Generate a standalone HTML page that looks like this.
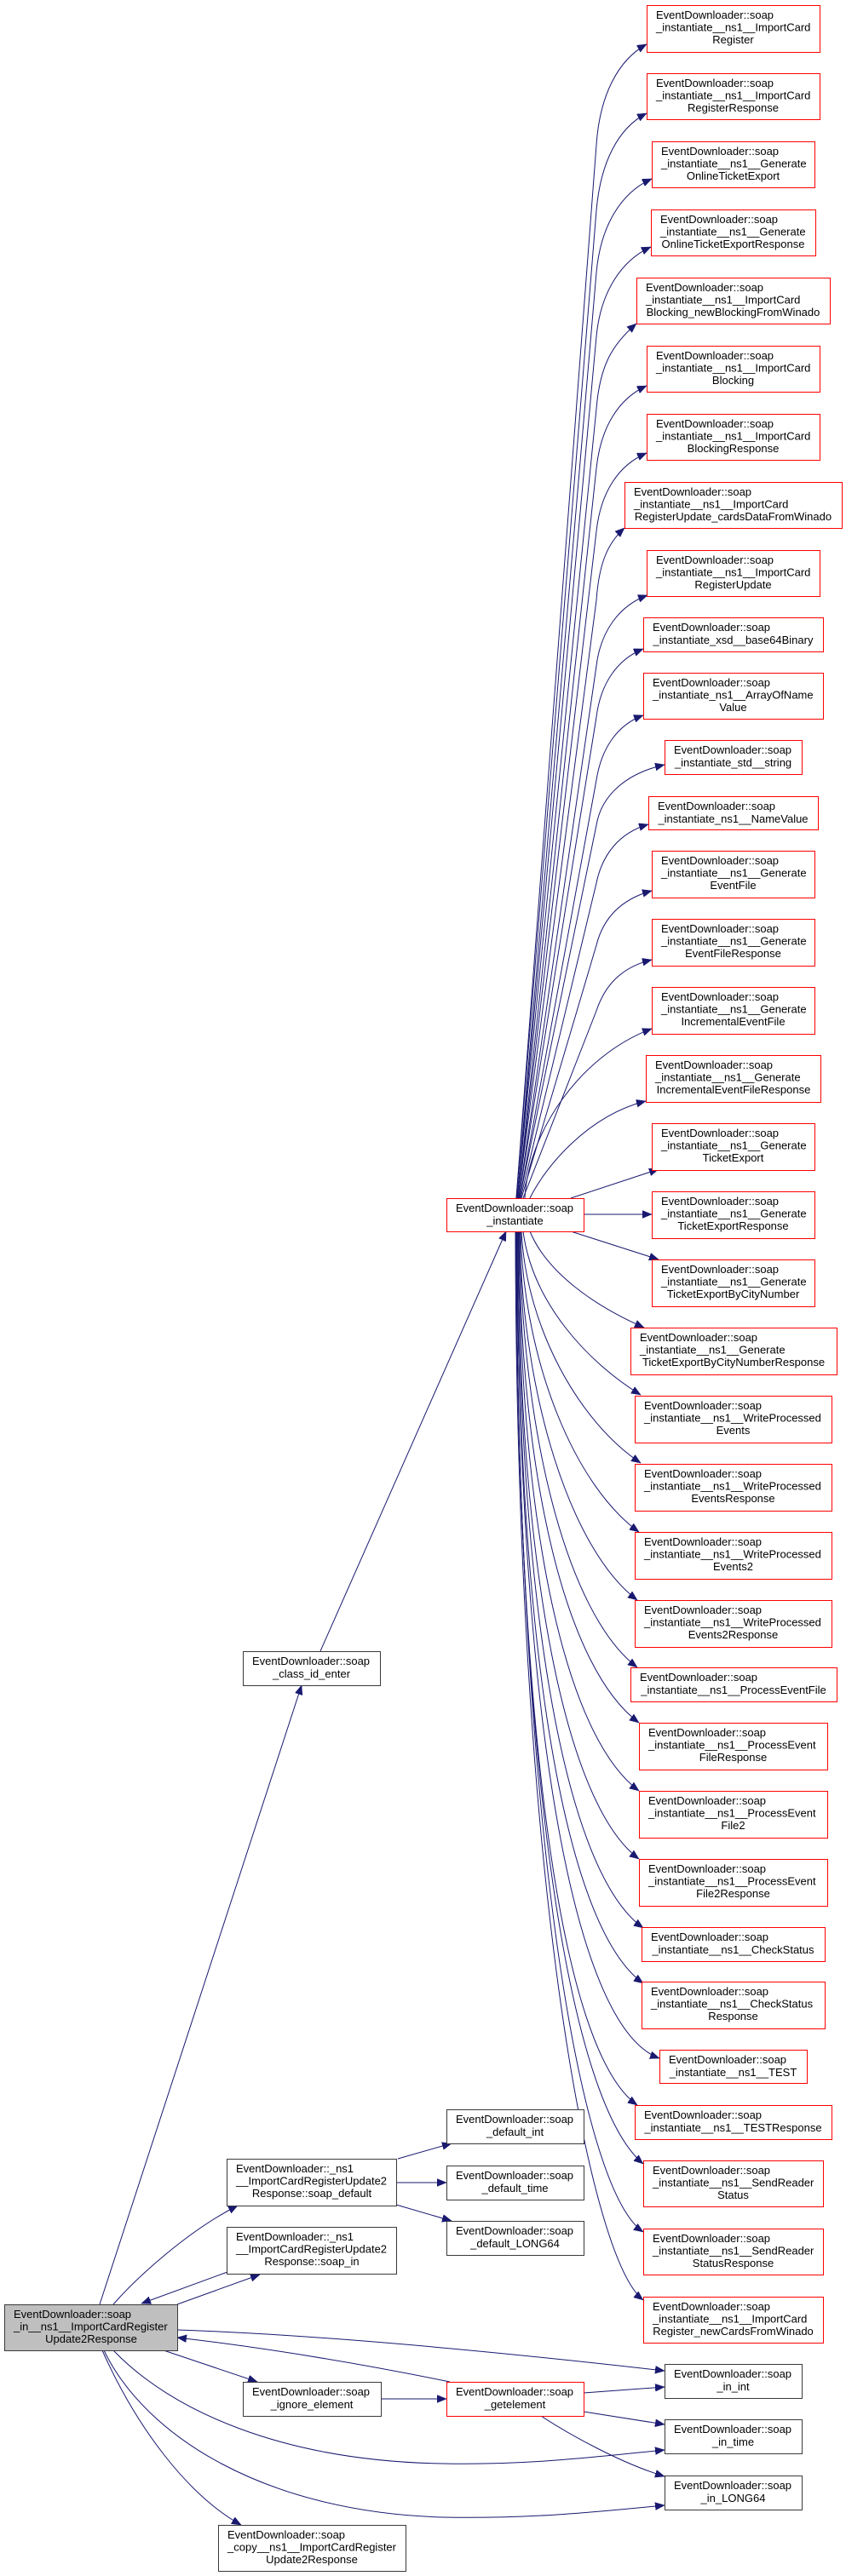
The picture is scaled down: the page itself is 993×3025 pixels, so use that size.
<!DOCTYPE html>
<html><head><meta charset="utf-8"><style>
html,body{margin:0;padding:0;background:#fff;}
svg{display:block;}
.e{fill:none;stroke:#191970;stroke-width:1;marker-end:url(#ah);}
.r{fill:#fff;stroke:#ff0000;stroke-width:1;}
.b{fill:#fff;stroke:#3a3a3a;stroke-width:1;}
.g{fill:#bfbfbf;stroke:#3a3a3a;stroke-width:1;}
text{font-family:"Liberation Sans",Arial,sans-serif;font-size:13px;fill:#000;}
.m{text-anchor:middle;}
</style></head><body>
<svg width="993" height="3025" xmlns="http://www.w3.org/2000/svg">
<defs><marker id="ah" markerUnits="userSpaceOnUse" markerWidth="12" markerHeight="10" refX="11" refY="4.5" orient="auto"><path d="M0,0 L11,4.5 L0,9 z" fill="#191970" stroke="#191970" stroke-width="0.5"/></marker></defs>

<!-- edges from soap_instantiate -->
<path class="e" d="M606,1407 L700,170 C704,111 726,70 759,52"/>
<path class="e" d="M606,1407 L700,247 C705,190 726,150 759,133"/>
<path class="e" d="M607,1407 L700,320 C705,265 729,226 765,210"/>
<path class="e" d="M607,1407 L700,395 C705,343 729,306 764,290"/>
<path class="e" d="M607,1407 L700,480 C704,430 718,405 747,380"/>
<path class="e" d="M608,1407 L700,550 C705,502 726,468 759,453"/>
<path class="e" d="M608,1407 L700,624 C705,578 726,546 759,532"/>
<path class="e" d="M608,1407 L700,705 C703,662 713,638 733,620"/>
<path class="e" d="M609,1407 L700,782 C705,741 727,711 760,699"/>
<path class="e" d="M609,1407 L700,842 C705,802 725,774 755,762"/>
<path class="e" d="M610,1407 L700,916 C706,878 725,851 755,840"/>
<path class="e" d="M610,1407 L700,969 C706,933 736,908 780,898"/>
<path class="e" d="M611,1407 L700,1037 C707,1003 727,978 761,968"/>
<path class="e" d="M612,1407 L700,1110 C708,1078 729,1056 765,1046"/>
<path class="e" d="M614,1407 L700,1187 C710,1157 729,1136 765,1127"/>
<path class="e" d="M616,1407 C620,1330 680,1240 765,1208"/>
<path class="e" d="M622,1407 C640,1370 690,1310 758,1293"/>
<path class="e" d="M670,1407 L773,1373"/>
<path class="e" d="M685,1426 L765,1426"/>
<path class="e" d="M670,1446 L773,1479"/>
<path class="e" d="M622,1446 C640,1490 690,1530 756,1559"/>
<path class="e" d="M614,1446 C625,1530 690,1600 752,1638"/>
<path class="e" d="M612,1446 C618,1560 680,1670 752,1718"/>
<path class="e" d="M611,1446 C615,1600 675,1745 750,1799"/>
<path class="e" d="M610,1446 C613,1640 670,1820 748,1879"/>
<path class="e" d="M610,1446 C612,1680 665,1895 748,1958"/>
<path class="e" d="M609,1446 C611,1740 665,1960 750,2023"/>
<path class="e" d="M609,1446 C610,1800 665,2040 750,2103"/>
<path class="e" d="M608,1446 C609,1850 665,2120 750,2183"/>
<path class="e" d="M608,1446 C609,1900 665,2200 755,2264"/>
<path class="e" d="M607,1446 C608,1950 665,2265 755,2329"/>
<path class="e" d="M607,1446 C608,2000 670,2380 774,2417"/>
<path class="e" d="M606,1446 C607,2050 660,2410 748,2472"/>
<path class="e" d="M606,1446 C607,2100 670,2470 755,2541"/>
<path class="e" d="M606,1446 C608,2150 680,2570 755,2621"/>
<path class="e" d="M605,1446 C606,2200 690,2650 755,2701"/>

<!-- bottom-left edges -->
<path class="e" d="M117,2706 L354,1979"/>
<path class="e" d="M376,1939 L594,1446"/>
<path class="e" d="M133,2706 C160,2675 220,2620 279,2590"/>
<path class="e" d="M208,2706 L305,2671"/>
<path class="e" d="M267,2668 L166,2705"/>
<path class="e" d="M208,2736 Q420,2743 780,2784"/>
<path class="e" d="M528,2797 C430,2777 320,2758 208,2745"/>
<path class="e" d="M192,2760 L302,2797"/>
<path class="e" d="M447,2817 L524,2817"/>
<path class="e" d="M685,2810 L780,2803"/>
<path class="e" d="M685,2832 L780,2847"/>
<path class="e" d="M635,2837 C670,2860 730,2893 780,2908"/>
<path class="e" d="M133,2760 C200,2830 330,2890 520,2893 C620,2895 700,2885 780,2877"/>
<path class="e" d="M122,2760 C170,2860 310,2950 520,2956 C620,2958 700,2950 780,2942"/>
<path class="e" d="M120,2760 C160,2850 220,2930 283,2965"/>
<path class="e" d="M467,2535 L530,2517"/>
<path class="e" d="M465,2563 L524,2563"/>
<path class="e" d="M465,2589 L530,2608"/>

<!-- right column red nodes -->
<rect class="r" x="759.5" y="6.5" width="203" height="55"/>
<text x="770" y="22">EventDownloader::soap</text><text x="770" y="36.6">_instantiate__ns1__ImportCard</text><text class="m" x="860.5" y="51.2">Register</text>

<rect class="r" x="759.5" y="86.5" width="203" height="54"/>
<text x="770" y="102">EventDownloader::soap</text><text x="770" y="116.6">_instantiate__ns1__ImportCard</text><text class="m" x="860.5" y="131.2">RegisterResponse</text>

<rect class="r" x="765.5" y="166.5" width="191" height="54"/>
<text x="776" y="182">EventDownloader::soap</text><text x="776" y="196.6">_instantiate__ns1__Generate</text><text class="m" x="860.5" y="211.2">OnlineTicketExport</text>

<rect class="r" x="764.5" y="246.5" width="193" height="54"/>
<text x="775" y="262">EventDownloader::soap</text><text x="775" y="276.6">_instantiate__ns1__Generate</text><text class="m" x="860.5" y="291.2">OnlineTicketExportResponse</text>

<rect class="r" x="747.5" y="326.5" width="227" height="54"/>
<text x="758" y="342">EventDownloader::soap</text><text x="758" y="356.6">_instantiate__ns1__ImportCard</text><text class="m" x="860.5" y="371.2">Blocking_newBlockingFromWinado</text>

<rect class="r" x="759.5" y="406.5" width="203" height="54"/>
<text x="770" y="422">EventDownloader::soap</text><text x="770" y="436.6">_instantiate__ns1__ImportCard</text><text class="m" x="860.5" y="451.2">Blocking</text>

<rect class="r" x="759.5" y="486.5" width="203" height="54"/>
<text x="770" y="502">EventDownloader::soap</text><text x="770" y="516.6">_instantiate__ns1__ImportCard</text><text class="m" x="860.5" y="531.2">BlockingResponse</text>

<rect class="r" x="733.5" y="566.5" width="255" height="54"/>
<text x="744" y="582">EventDownloader::soap</text><text x="744" y="596.6">_instantiate__ns1__ImportCard</text><text class="m" x="860.5" y="611.2">RegisterUpdate_cardsDataFromWinado</text>

<rect class="r" x="759.5" y="646.5" width="203" height="54"/>
<text x="770" y="662">EventDownloader::soap</text><text x="770" y="676.6">_instantiate__ns1__ImportCard</text><text class="m" x="860.5" y="691.2">RegisterUpdate</text>

<rect class="r" x="755.5" y="725.5" width="211" height="40"/>
<text x="766" y="741">EventDownloader::soap</text><text class="m" x="860.5" y="755.8">_instantiate_xsd__base64Binary</text>

<rect class="r" x="755.5" y="790.5" width="211" height="54"/>
<text x="766" y="806">EventDownloader::soap</text><text x="766" y="820.6">_instantiate_ns1__ArrayOfName</text><text class="m" x="860.5" y="835.2">Value</text>

<rect class="r" x="780.5" y="869.5" width="161" height="40"/>
<text x="791" y="885">EventDownloader::soap</text><text class="m" x="860.5" y="899.8">_instantiate_std__string</text>

<rect class="r" x="761.5" y="935.5" width="199" height="39"/>
<text x="772" y="951">EventDownloader::soap</text><text class="m" x="860.5" y="965.8">_instantiate_ns1__NameValue</text>

<rect class="r" x="765.5" y="999.5" width="191" height="55"/>
<text x="776" y="1015">EventDownloader::soap</text><text x="776" y="1029.6">_instantiate__ns1__Generate</text><text class="m" x="860.5" y="1044.2">EventFile</text>

<rect class="r" x="765.5" y="1079.5" width="191" height="55"/>
<text x="776" y="1095">EventDownloader::soap</text><text x="776" y="1109.6">_instantiate__ns1__Generate</text><text class="m" x="860.5" y="1124.2">EventFileResponse</text>

<rect class="r" x="765.5" y="1159.5" width="191" height="55"/>
<text x="776" y="1175">EventDownloader::soap</text><text x="776" y="1189.6">_instantiate__ns1__Generate</text><text class="m" x="860.5" y="1204.2">IncrementalEventFile</text>

<rect class="r" x="758.5" y="1239.5" width="205" height="55"/>
<text x="769" y="1255">EventDownloader::soap</text><text x="769" y="1269.6">_instantiate__ns1__Generate</text><text class="m" x="861" y="1284.2">IncrementalEventFileResponse</text>

<rect class="r" x="765.5" y="1319.5" width="191" height="55"/>
<text x="776" y="1335">EventDownloader::soap</text><text x="776" y="1349.6">_instantiate__ns1__Generate</text><text class="m" x="860.5" y="1364.2">TicketExport</text>

<rect class="r" x="765.5" y="1399.5" width="191" height="55"/>
<text x="776" y="1415">EventDownloader::soap</text><text x="776" y="1429.6">_instantiate__ns1__Generate</text><text class="m" x="860.5" y="1444.2">TicketExportResponse</text>

<rect class="r" x="765.5" y="1479.5" width="191" height="55"/>
<text x="776" y="1495">EventDownloader::soap</text><text x="776" y="1509.6">_instantiate__ns1__Generate</text><text class="m" x="860.5" y="1524.2">TicketExportByCityNumber</text>

<rect class="r" x="740.5" y="1559.5" width="242" height="55"/>
<text x="751" y="1575">EventDownloader::soap</text><text x="751" y="1589.6">_instantiate__ns1__Generate</text><text class="m" x="861" y="1604.2">TicketExportByCityNumberResponse</text>

<rect class="r" x="745.5" y="1639.5" width="231" height="55"/>
<text x="756" y="1655">EventDownloader::soap</text><text x="756" y="1669.6">_instantiate__ns1__WriteProcessed</text><text class="m" x="860.5" y="1684.2">Events</text>

<rect class="r" x="745.5" y="1719.5" width="231" height="55"/>
<text x="756" y="1735">EventDownloader::soap</text><text x="756" y="1749.6">_instantiate__ns1__WriteProcessed</text><text class="m" x="860.5" y="1764.2">EventsResponse</text>

<rect class="r" x="745.5" y="1799.5" width="231" height="55"/>
<text x="756" y="1815">EventDownloader::soap</text><text x="756" y="1829.6">_instantiate__ns1__WriteProcessed</text><text class="m" x="860.5" y="1844.2">Events2</text>

<rect class="r" x="745.5" y="1879.5" width="231" height="55"/>
<text x="756" y="1895">EventDownloader::soap</text><text x="756" y="1909.6">_instantiate__ns1__WriteProcessed</text><text class="m" x="860.5" y="1924.2">Events2Response</text>

<rect class="r" x="740.5" y="1958.5" width="242" height="40"/>
<text x="751" y="1974">EventDownloader::soap</text><text class="m" x="861" y="1988.8">_instantiate__ns1__ProcessEventFile</text>

<rect class="r" x="750.5" y="2023.5" width="221" height="55"/>
<text x="761" y="2039">EventDownloader::soap</text><text x="761" y="2053.6">_instantiate__ns1__ProcessEvent</text><text class="m" x="860.5" y="2068.2">FileResponse</text>

<rect class="r" x="750.5" y="2103.5" width="221" height="55"/>
<text x="761" y="2119">EventDownloader::soap</text><text x="761" y="2133.6">_instantiate__ns1__ProcessEvent</text><text class="m" x="860.5" y="2148.2">File2</text>

<rect class="r" x="750.5" y="2183.5" width="221" height="55"/>
<text x="761" y="2199">EventDownloader::soap</text><text x="761" y="2213.6">_instantiate__ns1__ProcessEvent</text><text class="m" x="860.5" y="2228.2">File2Response</text>

<rect class="r" x="753.5" y="2263.5" width="215" height="40"/>
<text x="764" y="2279">EventDownloader::soap</text><text class="m" x="860.5" y="2293.8">_instantiate__ns1__CheckStatus</text>

<rect class="r" x="753.5" y="2327.5" width="215" height="55"/>
<text x="764" y="2343">EventDownloader::soap</text><text x="764" y="2357.6">_instantiate__ns1__CheckStatus</text><text class="m" x="860.5" y="2372.2">Response</text>

<rect class="r" x="774.5" y="2407.5" width="173" height="39"/>
<text x="785" y="2423">EventDownloader::soap</text><text class="m" x="860.5" y="2437.8">_instantiate__ns1__TEST</text>

<rect class="r" x="745.5" y="2472.5" width="231" height="40"/>
<text x="756" y="2488">EventDownloader::soap</text><text class="m" x="860.5" y="2502.8">_instantiate__ns1__TESTResponse</text>

<rect class="r" x="755.5" y="2537.5" width="211" height="54"/>
<text x="766" y="2553">EventDownloader::soap</text><text x="766" y="2567.6">_instantiate__ns1__SendReader</text><text class="m" x="860.5" y="2582.2">Status</text>

<rect class="r" x="755.5" y="2617.5" width="211" height="54"/>
<text x="766" y="2633">EventDownloader::soap</text><text x="766" y="2647.6">_instantiate__ns1__SendReader</text><text class="m" x="860.5" y="2662.2">StatusResponse</text>

<rect class="r" x="755.5" y="2697.5" width="211" height="54"/>
<text x="766" y="2713">EventDownloader::soap</text><text x="766" y="2727.6">_instantiate__ns1__ImportCard</text><text class="m" x="860.5" y="2742.2">Register_newCardsFromWinado</text>

<!-- middle / left nodes -->
<rect class="r" x="524.5" y="1407.5" width="161" height="39"/>
<text x="535" y="1423">EventDownloader::soap</text><text class="m" x="604.5" y="1437.8">_instantiate</text>

<rect class="b" x="285.5" y="1939.5" width="161" height="40"/>
<text x="296" y="1955">EventDownloader::soap</text><text class="m" x="365.5" y="1969.8">_class_id_enter</text>

<rect class="b" x="524.5" y="2477.5" width="161" height="40"/>
<text x="535" y="2493">EventDownloader::soap</text><text class="m" x="604.5" y="2507.8">_default_int</text>

<rect class="b" x="524.5" y="2543.5" width="161" height="40"/>
<text x="535" y="2559">EventDownloader::soap</text><text class="m" x="604.5" y="2573.8">_default_time</text>

<rect class="b" x="524.5" y="2608.5" width="161" height="40"/>
<text x="535" y="2624">EventDownloader::soap</text><text class="m" x="604.5" y="2638.8">_default_LONG64</text>

<rect class="b" x="266.5" y="2535.5" width="199" height="55"/>
<text x="277" y="2551">EventDownloader::_ns1</text><text x="277" y="2565.6">__ImportCardRegisterUpdate2</text><text class="m" x="366" y="2580.2">Response::soap_default</text>

<rect class="b" x="266.5" y="2615.5" width="199" height="55"/>
<text x="277" y="2631">EventDownloader::_ns1</text><text x="277" y="2645.6">__ImportCardRegisterUpdate2</text><text class="m" x="366" y="2660.2">Response::soap_in</text>

<rect class="g" x="5.5" y="2706.5" width="203" height="54"/>
<text x="16" y="2722">EventDownloader::soap</text><text x="16" y="2736.6">_in__ns1__ImportCardRegister</text><text class="m" x="107" y="2751.2">Update2Response</text>

<rect class="b" x="285.5" y="2797.5" width="162" height="40"/>
<text x="296" y="2813">EventDownloader::soap</text><text class="m" x="366" y="2827.8">_ignore_element</text>

<rect class="r" x="524.5" y="2797.5" width="161" height="40"/>
<text x="535" y="2813">EventDownloader::soap</text><text class="m" x="604.5" y="2827.8">_getelement</text>

<rect class="b" x="780.5" y="2776.5" width="161" height="40"/>
<text x="791" y="2792">EventDownloader::soap</text><text class="m" x="860.5" y="2806.8">_in_int</text>

<rect class="b" x="780.5" y="2841.5" width="161" height="40"/>
<text x="791" y="2857">EventDownloader::soap</text><text class="m" x="860.5" y="2871.8">_in_time</text>

<rect class="b" x="780.5" y="2907.5" width="161" height="40"/>
<text x="791" y="2923">EventDownloader::soap</text><text class="m" x="860.5" y="2937.8">_in_LONG64</text>

<rect class="b" x="256.5" y="2965.5" width="220" height="54"/>
<text x="267" y="2981">EventDownloader::soap</text><text x="267" y="2995.6">_copy__ns1__ImportCardRegister</text><text class="m" x="366" y="3010.2">Update2Response</text>
</svg>
</body></html>
